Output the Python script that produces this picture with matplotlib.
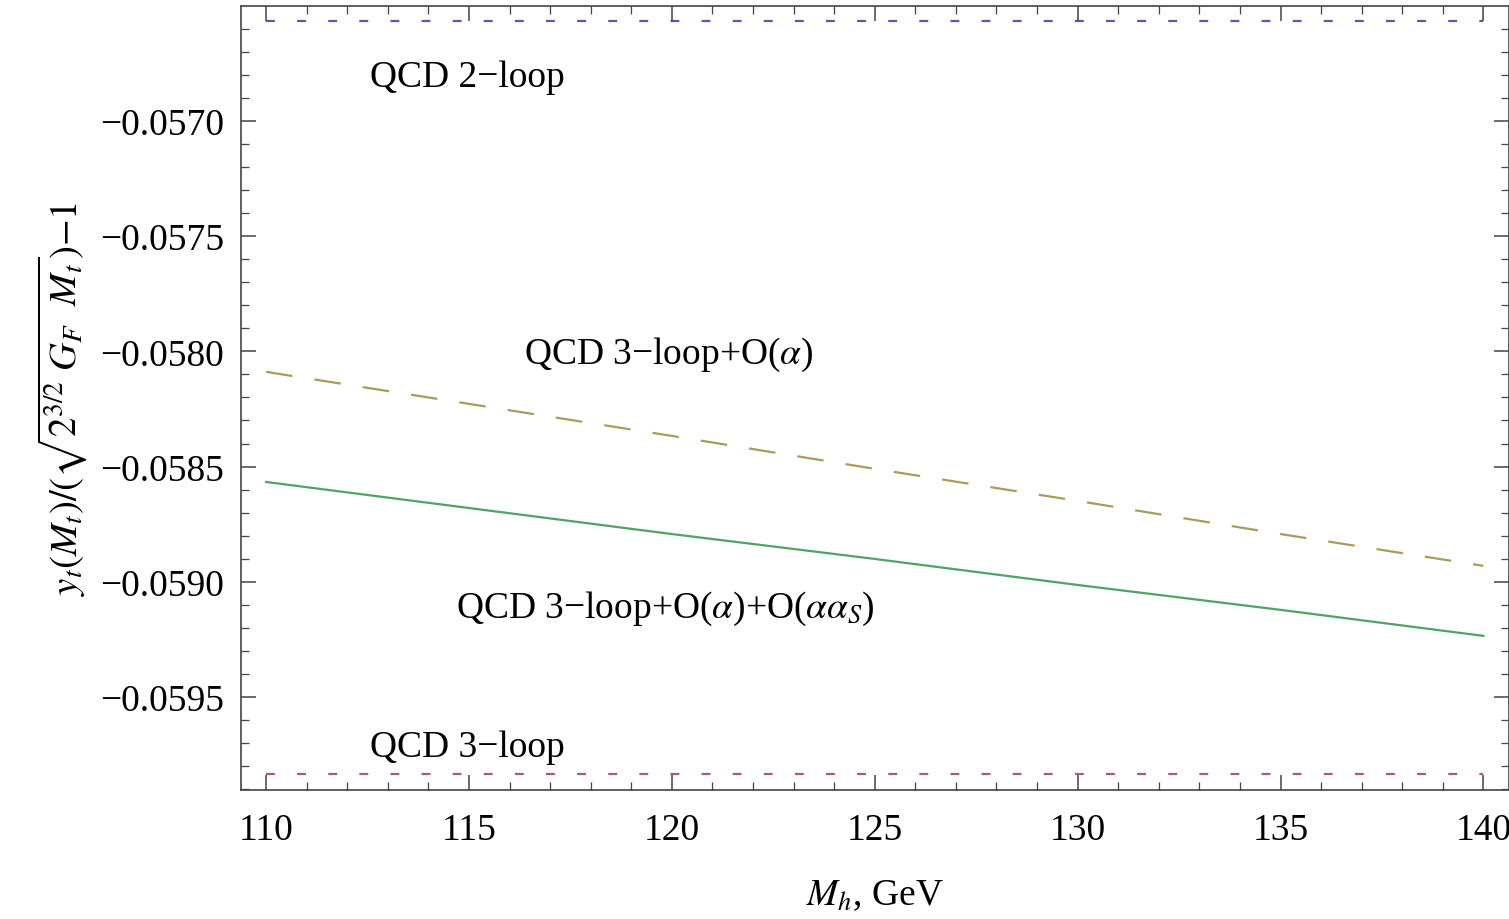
import matplotlib
matplotlib.use('Agg')
import matplotlib.pyplot as plt
from matplotlib.ticker import MultipleLocator, FuncFormatter

plt.rcParams['font.family'] = ['Liberation Serif', 'DejaVu Serif']
plt.rcParams['mathtext.fontset'] = 'stix'

# Higgs mass grid, GeV
mh = [110, 115, 120, 125, 130, 135, 140]

# QCD 3-loop + O(alpha)  (dashed)
yt_alpha = [-0.058089, -0.058228, -0.058367, -0.058510, -0.058649, -0.058793, -0.058931]
# QCD 3-loop + O(alpha) + O(alpha alpha_s)  (solid)
yt_alpha_as = [-0.058567, -0.058680, -0.058793, -0.058901, -0.059014, -0.059122, -0.059235]
# pure QCD results, flat in Mh
yt_qcd2 = [-0.056566] * len(mh)
yt_qcd3 = [-0.059834] * len(mh)

c_blue = (0.24, 0.24, 0.6)
c_purple = (0.6, 0.24, 0.442)
c_olive = (0.6, 0.547, 0.24)
c_green = (0.24, 0.6, 0.33)

fig = plt.figure(figsize=(15.09, 9.2), dpi=100)
ax = fig.add_axes([0.1597, 0.1402, 0.8400, 0.8522])

ax.plot(mh, yt_qcd2, color=c_blue, lw=1.6, dashes=(4, 10), alpha=0.85)
ax.plot(mh, yt_qcd3, color=c_purple, lw=1.6, dashes=(4, 10), alpha=0.85)
ax.plot(mh, yt_alpha, color=c_olive, lw=1.6, dashes=(12, 10), alpha=0.85)
ax.plot(mh, yt_alpha_as, color=c_green, lw=1.6, alpha=0.9)

fs = 27
ax.text(112.56, -0.056810, 'QCD 2\u2212loop', fontsize=fs, va='center', ha='left')
ax.text(116.35, -0.058012, 'QCD 3\u2212loop+O($\\alpha$)', fontsize=fs, va='center', ha='left')
ax.text(114.68, -0.059112, 'QCD 3\u2212loop+O($\\alpha$)+O($\\alpha\\alpha_S$)', fontsize=fs,
        va='center', ha='left')
ax.text(112.56, -0.059716, 'QCD 3\u2212loop', fontsize=fs, va='center', ha='left')

ax.set_xlim(109.38, 140.62)
ax.set_ylim(-0.059904, -0.056501)

ax.xaxis.set_major_locator(MultipleLocator(5))
ax.xaxis.set_minor_locator(MultipleLocator(1))
ax.yaxis.set_major_locator(MultipleLocator(0.0005))
ax.yaxis.set_minor_locator(MultipleLocator(0.0001))
ax.yaxis.set_major_formatter(FuncFormatter(lambda v, p: ('%.4f' % v).replace('-', '\u2212')))

ax.tick_params(which='both', direction='in', top=True, right=True,
               labelsize=fs, color='#444444')
ax.tick_params(which='major', length=10.5, width=1.1, pad=12)
ax.tick_params(which='minor', length=6, width=0.9)
ax.tick_params(axis='x', which='major', pad=16)
for s in ax.spines.values():
    s.set_color('#444444')
    s.set_linewidth(1.2)

ax.set_xlabel('$M_h$, GeV', fontsize=fs, labelpad=22)
ax.set_ylabel('$y_t(M_t)/(\\sqrt{2^{3/2}\\ G_F\\ \\ M_t})\\mathrm{-}1$', fontsize=fs + 1, labelpad=8)

plt.savefig('out.png', dpi=100)
